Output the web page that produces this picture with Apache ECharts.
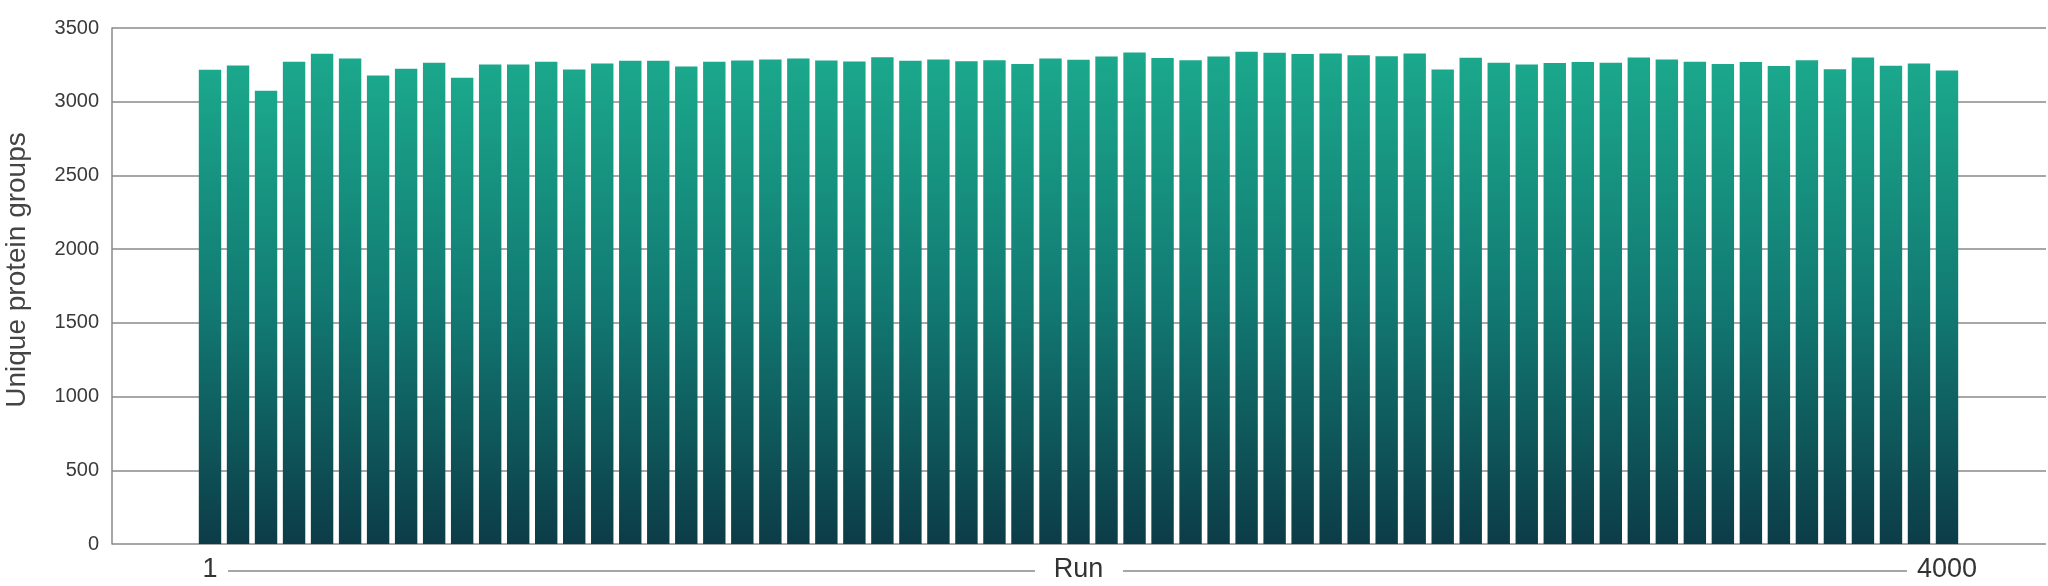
<!DOCTYPE html>
<html>
<head>
<meta charset="utf-8">
<title>Unique protein groups per run</title>
<script src="https://cdn.jsdelivr.net/npm/echarts@6/dist/echarts.min.js"></script>
<style>
  html, body { margin: 0; padding: 0; background: #fff; }
  #chart { width: 2048px; height: 586px; }
</style>
</head>
<body>
<div id="chart"></div>
<script>
const proteinGroups = [
  3217, 3246, 3074, 3271, 3325, 3293, 3178, 3223, 3264, 3163,
  3253, 3253, 3271, 3219, 3260, 3278, 3278, 3239, 3271, 3280,
  3287, 3293, 3280, 3273, 3302, 3278, 3287, 3275, 3282, 3255,
  3293, 3284, 3307, 3334, 3296, 3282, 3307, 3339, 3332, 3323,
  3327, 3316, 3309, 3327, 3219, 3298, 3264, 3253, 3262, 3269,
  3264, 3300, 3287, 3271, 3255, 3269, 3242, 3282, 3221, 3300,
  3244, 3260, 3212,
];
const runEndLabels = ["1", "4000"];   // only the first and last run are labelled
const yTicks = { min: 0, max: 3500, step: 500 };
const yTitle = "Unique protein groups";
const xTitle = "Run";

const runs = proteinGroups.map((_, i) => i + 1);
const lastIdx = proteinGroups.length - 1;

const FONT = '"Helvetica Neue", Helvetica, "Liberation Sans", Arial, sans-serif';
const GRID_COLOR = "#8a8a8a";

const chart = echarts.init(document.getElementById("chart"), null, { renderer: "canvas" });

chart.setOption({
  animation: false,
  // grid 0 carries the y axis and its full-width gridlines,
  // grid 1 is the narrower band the bars sit in.
  grid: [
    { left: 112, right: 2, top: 28, bottom: 42, outerBoundsMode: "none", containLabel: false },
    { left: 196, right: 87, top: 28, bottom: 42, outerBoundsMode: "none", containLabel: false },
  ],
  xAxis: [
    { gridIndex: 0, type: "value", show: false, min: 0, max: 1 },
    {
      gridIndex: 1,
      type: "category",
      data: runs,
      axisLine: { show: false },
      axisTick: { show: false },
      axisLabel: {
        interval: (i) => i === 0 || i === lastIdx,
        formatter: (v, i) => (i === 0 ? runEndLabels[0] : runEndLabels[1]),
        margin: 12,
        fontFamily: FONT,
        fontSize: 27,
        color: "#333",
      },
      name: xTitle,
      nameLocation: "middle",
      nameGap: 12,
      nameMoveOverlap: false,
      nameTextStyle: { fontFamily: FONT, fontSize: 27, color: "#333", verticalAlign: "top" },
    },
  ],
  yAxis: [
    {
      gridIndex: 0,
      type: "value",
      min: yTicks.min,
      max: yTicks.max,
      interval: yTicks.step,
      axisLine: { show: true, lineStyle: { color: GRID_COLOR, width: 1.5 } },
      axisTick: { show: false },
      splitLine: { show: true, lineStyle: { color: GRID_COLOR, width: 1.5 } },
      axisLabel: {
        margin: 13,
        formatter: (v) => String(v),
        fontFamily: FONT,
        fontSize: 20,
        color: "#3a3a3a",
      },
      name: yTitle,
      nameLocation: "middle",
      nameGap: 81,
      nameRotate: 90,
      nameMoveOverlap: false,
      nameTextStyle: { fontFamily: FONT, fontSize: 28, color: "#444", padding: [0, 0, 0, 32] },
    },
    {
      gridIndex: 1,
      type: "value",
      min: yTicks.min,
      max: yTicks.max,
      show: false,
      splitLine: { show: false },
    },
  ],
  series: [
    {
      type: "bar",
      xAxisIndex: 1,
      yAxisIndex: 1,
      data: proteinGroups,
      barCategoryGap: "20%",
      itemStyle: {
        color: new echarts.graphic.LinearGradient(0, 0, 0, 1, [
          { offset: 0, color: "#1ba88c" },
          { offset: 0.5, color: "#127a72" },
          { offset: 1, color: "#0c3c47" },
        ]),
      },
    },
  ],
  // Decorative rule either side of the "Run" title.
  graphic: [
    { type: "line", shape: { x1: 228, y1: 571, x2: 1035, y2: 571 }, style: { stroke: "#888", lineWidth: 1.5 } },
    { type: "line", shape: { x1: 1123, y1: 571, x2: 1907, y2: 571 }, style: { stroke: "#888", lineWidth: 1.5 } },
  ],
});

window.addEventListener("resize", () => chart.resize());
</script>
</body>
</html>
